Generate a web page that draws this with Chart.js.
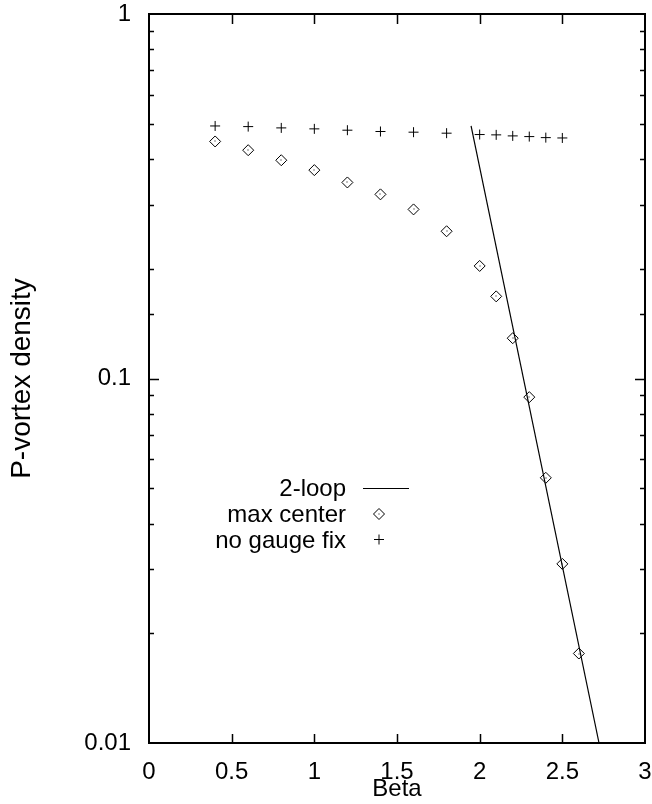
<!DOCTYPE html>
<html>
<head>
<meta charset="utf-8">
<script src="https://cdn.jsdelivr.net/npm/chart.js"></script>
<style>
    html, body { margin: 0; padding: 0; background: #fff; }
    #wrap { width: 652px; height: 804px; }
</style>
</head>
<body>
<div id="wrap"><canvas id="myChart" width="652" height="804"></canvas></div>
<script>
// values
var beta_nogauge = [0.4, 0.6, 0.8, 1.0, 1.2, 1.4, 1.6, 1.8, 2.0, 2.1, 2.2, 2.3, 2.4, 2.5];
var dens_nogauge = [0.493, 0.491, 0.487, 0.484, 0.480, 0.476, 0.474, 0.471, 0.467, 0.466, 0.463, 0.461, 0.458, 0.457];
var beta_maxcenter = [0.4, 0.6, 0.8, 1.0, 1.2, 1.4, 1.6, 1.8, 2.0, 2.1, 2.2, 2.3, 2.4, 2.5, 2.6];
var dens_maxcenter = [0.447, 0.423, 0.397, 0.373, 0.345, 0.320, 0.291, 0.2535, 0.2036, 0.168, 0.129, 0.0889, 0.0534, 0.031, 0.0176];
var beta_loop = [1.948, 2.722];
var dens_loop = [0.493, 0.01];
var series_labels = ['2-loop', 'max center', 'no gauge fix'];
var x_title = 'Beta';
var y_title = 'P-vortex density';

var font_name = "'Liberation Sans', Arial, sans-serif";

function to_points(xs, ys) {
    let out = [];
    for (let i = 0; i < xs.length; i++) {
        out.push({ x: xs[i], y: ys[i] });
    }
    return out;
}

function is_decade(v) {
    let l = Math.log10(v);
    return Math.abs(l - Math.round(l)) < 1e-6;
}

// gnuplot style frame, inward ticks, legend and diamond dots
var frame_plugin = {
    id: 'frame',
    afterDatasetsDraw(chart) {
        let ctx = chart.ctx;
        let meta = chart.getDatasetMeta(1);
        ctx.save();
        ctx.fillStyle = '#000';
        meta.data.forEach((p) => {
            ctx.fillRect(Math.round(p.x) - 0.5, Math.round(p.y) - 0.5, 1, 1);
        });
        ctx.restore();
    },
    afterDraw(chart) {
        let ctx = chart.ctx;
        let a = chart.chartArea;
        let xs = chart.scales.x;
        let ys = chart.scales.y;
        ctx.save();
        ctx.strokeStyle = '#000';
        ctx.lineWidth = 1.5;
        ctx.beginPath();
        xs.ticks.forEach((t) => {
            let px = Math.round(xs.getPixelForValue(t.value)) + 0.5;
            if (px <= a.left + 1 || px >= a.right - 1) return;
            ctx.moveTo(px, a.bottom);
            ctx.lineTo(px, a.bottom - 9);
            ctx.moveTo(px, a.top);
            ctx.lineTo(px, a.top + 10);
        });
        ys.ticks.forEach((t) => {
            let py = Math.round(ys.getPixelForValue(t.value)) + 0.5;
            if (py <= a.top + 1 || py >= a.bottom - 1) return;
            let len = is_decade(t.value) ? 10 : 5;
            ctx.moveTo(a.left, py);
            ctx.lineTo(a.left + len, py);
            ctx.moveTo(a.right, py);
            ctx.lineTo(a.right - len, py);
        });
        ctx.stroke();
        ctx.lineWidth = 2;
        ctx.strokeRect(a.left, a.top, a.right - a.left, a.bottom - a.top);

        // legend
        let rows = [488, 514, 539.5];
        ctx.font = '24px ' + font_name;
        ctx.fillStyle = '#000';
        ctx.textAlign = 'right';
        ctx.textBaseline = 'alphabetic';
        ctx.lineWidth = 1;
        chart.data.datasets.forEach((ds, i) => {
            let y = rows[i];
            ctx.fillText(ds.label, 346, y + 8);
            ctx.beginPath();
            if (i == 0) {
                ctx.moveTo(363, y + 0.5);
                ctx.lineTo(409, y + 0.5);
            }
            else if (i == 1) {
                ctx.moveTo(379 - 5.5, y);
                ctx.lineTo(379, y - 5.5);
                ctx.lineTo(379 + 5.5, y);
                ctx.lineTo(379, y + 5.5);
                ctx.closePath();
                ctx.fillRect(378.5, y - 0.5, 1, 1);
            }
            else {
                ctx.moveTo(379 - 5, y);
                ctx.lineTo(379 + 5, y);
                ctx.moveTo(379, y - 5);
                ctx.lineTo(379, y + 5);
            }
            ctx.stroke();
        });
        ctx.restore();
    }
};

var ctx = document.getElementById('myChart');
var chart = new Chart(ctx, {
    type: 'scatter',
    data: {
        datasets: [
            {
                label: series_labels[0],
                data: to_points(beta_loop, dens_loop),
                showLine: true,
                borderColor: '#000',
                borderWidth: 1.2,
                pointRadius: 0,
                fill: false
            },
            {
                label: series_labels[1],
                data: to_points(beta_maxcenter, dens_maxcenter),
                pointStyle: 'rectRot',
                pointRadius: 5.5,
                borderColor: '#000',
                backgroundColor: 'rgba(0,0,0,0)',
                borderWidth: 1
            },
            {
                label: series_labels[2],
                data: to_points(beta_nogauge, dens_nogauge),
                pointStyle: 'cross',
                pointRadius: 5,
                borderColor: '#000',
                borderWidth: 1
            }
        ]
    },
    options: {
        responsive: false,
        animation: false,
        devicePixelRatio: 1,
        layout: { padding: { left: 0, top: 14, right: 7, bottom: 0 } },
        scales: {
            x: {
                type: 'linear',
                min: 0,
                max: 3,
                grid: { display: false },
                border: { display: false },
                ticks: {
                    stepSize: 0.5,
                    padding: 7,
                    color: '#000',
                    maxRotation: 0,
                    font: { family: font_name, size: 24 },
                    callback: function (value) {
                        return String(Number(value.toFixed(2)));
                    }
                },
                title: {
                    display: true,
                    text: x_title,
                    color: '#000',
                    padding: { top: 0, bottom: 3 },
                    font: { family: font_name, size: 24, lineHeight: 1 }
                },
                afterFit(scale) {
                    scale.height = 61;
                    scale.paddingLeft = 0;
                    scale.paddingRight = 0;
                }
            },
            y: {
                type: 'logarithmic',
                min: 0.01,
                max: 1,
                grid: { display: false },
                border: { display: false },
                ticks: {
                    padding: 10,
                    color: '#000',
                    autoSkip: false,
                    font: { family: font_name, size: 24 },
                    callback: function (value) {
                        return is_decade(value) ? String(Number(value.toPrecision(3))) : '';
                    }
                },
                title: {
                    display: true,
                    text: y_title,
                    color: '#000',
                    padding: { top: 8, bottom: 0 },
                    font: { family: font_name, size: 28, lineHeight: 1 }
                },
                afterFit(scale) {
                    scale.width = 149;
                    scale.paddingTop = 0;
                    scale.paddingBottom = 0;
                }
            }
        },
        plugins: {
            legend: { display: false },
            tooltip: { enabled: false }
        }
    },
    plugins: [frame_plugin]
});
</script>
</body>
</html>
